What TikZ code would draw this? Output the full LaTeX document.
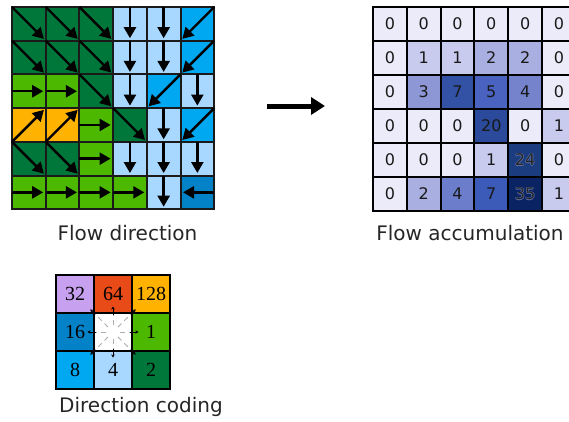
\documentclass[tikz,border=0pt]{standalone}
\usepackage{fontspec}
\setmainfont{DejaVu Sans}
\newfontfamily\serifnum{Liberation Serif}
\usetikzlibrary{arrows.meta,calc}
% direction colours (index 0..7 = E,SE,S,SW,W,NW,N,NE)
\definecolor{c0}{HTML}{4CB800}
\definecolor{c1}{HTML}{00773A}
\definecolor{c2}{HTML}{A8D8FF}
\definecolor{c3}{HTML}{00A8F2}
\definecolor{c4}{HTML}{0382C8}
\definecolor{c5}{HTML}{C8A0F0}
\definecolor{c6}{HTML}{E84A18}
\definecolor{c7}{HTML}{FFB300}
% accumulation colours
\definecolor{a0}{HTML}{EBEBFA}
\definecolor{a1}{HTML}{C8CBEE}
\definecolor{a2}{HTML}{A9AFE0}
\definecolor{a3}{HTML}{8E97D5}
\definecolor{a4}{HTML}{6B7DCB}
\definecolor{a4b}{HTML}{7483CC}
\definecolor{a5}{HTML}{4A63C1}
\definecolor{a7}{HTML}{3352A6}
\definecolor{a7b}{HTML}{3C5BB9}
\definecolor{a20}{HTML}{2C4A9C}
\definecolor{a24}{HTML}{1B3C7E}
\definecolor{a35}{HTML}{0A2463}
\definecolor{gridc}{HTML}{1A1A1A}
\definecolor{labc}{HTML}{262626}
\definecolor{haloc}{HTML}{5A6FA8}
\newcommand\myhalo[1]{%
  \rlap{\kern0.7pt\textcolor{haloc}{#1}}%
  \rlap{\kern-0.7pt\textcolor{haloc}{#1}}%
  \rlap{\raisebox{0.7pt}{\textcolor{haloc}{#1}}}%
  \rlap{\raisebox{-0.7pt}{\textcolor{haloc}{#1}}}%
  \textcolor{black!85}{#1}}
\begin{document}
\begin{tikzpicture}[x=1pt,y=-1pt,
  fdcell/.style={minimum size=33.7pt,inner sep=0pt,outer sep=0pt,draw=none},
  accell/.style={minimum size=34pt,inner sep=0pt,outer sep=0pt,draw=none,
    font=\fontsize{16}{16}\selectfont,text=black!90},
  dccell/.style={minimum size=38pt,inner sep=0pt,outer sep=0pt,draw=none,
    font=\serifnum\fontsize{20}{20}\selectfont,text=black},
  gridline/.style={draw=gridc,line width=2pt},
  fdarrow/.style={draw=black,line width=2.4pt,
    -{Triangle[length=11pt,width=12pt]},shorten >=2.5pt},
  raddash/.style={draw=gray!65,line width=0.9pt,dash pattern=on 5pt off 4pt},
  smallarr/.style={draw=black,line width=0.7pt,-{Stealth[length=3pt,width=3.5pt]}},
  lab/.style={font=\fontsize{20}{24}\selectfont,text=labc,anchor=base,inner sep=0pt}]
\useasboundingbox (0,0) rectangle (569,421);
\clip (0,0) rectangle (569,421);
\fill[white] (0,0) rectangle (569,421);

% ---------------- Flow direction ----------------
\def\fddata{{1,1,1,2,2,3},{1,1,1,2,2,3},{0,0,1,2,3,2},{7,7,0,1,2,3},{1,1,0,2,2,2},{0,0,0,0,2,4}}
\foreach \row [count=\r from 0] in \fddata {
  \foreach \d [count=\c from 0] in \row {
    \node[fdcell,fill=c\d] (fd\r\c) at ({12+(\c+0.5)*33.7},{7+(\r+0.5)*33.7}) {};
  }
}
\foreach \k in {0,...,6} {
  \draw[gridline] ({12+\k*33.7},6) -- ({12+\k*33.7},210.2);
  \draw[gridline] (11,{7+\k*33.7}) -- (215.2,{7+\k*33.7});
}
\foreach \row [count=\r from 0] in \fddata {
  \foreach \d [count=\c from 0] in \row {
    \pgfmathtruncatemacro\ta{mod(360-45*\d,360)}
    \pgfmathtruncatemacro\fa{mod(540-45*\d,360)}
    \draw[fdarrow] (fd\r\c.\fa) -- (fd\r\c.\ta);
  }
}
\node[lab] (fdlab) at (127.5,240) {Flow direction};

% ---------------- Big arrow ----------------
\coordinate (bigS) at (267,106);
\coordinate (bigE) at (325,106);
\draw[line width=5pt,-{Triangle[length=14pt,width=17pt]}] (bigS) -- (bigE);

% ---------------- Flow accumulation ----------------
\foreach \row [count=\r from 0] in {
  {0/a0,0/a0,0/a0,0/a0,0/a0,0/a0},
  {0/a0,1/a1,1/a1,2/a2,2/a2,0/a0},
  {0/a0,3/a3,7/a7,5/a5,4/a4b,0/a0},
  {0/a0,0/a0,0/a0,20/a20,0/a0,1/a1},
  {0/a0,0/a0,0/a0,1/a1,\myhalo{24}/a24,0/a0},
  {0/a0,2/a2,4/a4,7/a7b,\myhalo{35}/a35,1/a1}} {
  \foreach \v/\cl [count=\c from 0] in \row {
    \node[accell,fill=\cl] (ac\r\c) at ({373+(\c+0.5)*33.8},{7+(\r+0.5)*34}) {\v};
  }
}
\foreach \k in {0,...,6} {
  \draw[gridline,draw=black] ({373+\k*33.8},6) -- ({373+\k*33.8},212);
  \draw[gridline,draw=black] (372,{7+\k*34}) -- (580,{7+\k*34});
}
\node[lab] (aclab) at (470,240) {Flow accumulation};

% ---------------- Direction coding ----------------
\foreach \i/\lab/\dx/\dy in {0/1/1/0,1/2/1/1,2/4/0/1,3/8/-1/1,4/16/-1/0,5/32/-1/-1,6/64/0/-1,7/128/1/-1} {
  \node[dccell,fill=c\i] (dc\i) at ({113+\dx*38},{332+\dy*38}) {\lab};
}
\node[dccell,fill=white] (dcc) at (113,332) {};
\foreach \k in {0,...,3} {
  \draw[gridline,draw=black] ({56+\k*38},274) -- ({56+\k*38},390);
  \draw[gridline,draw=black] (55,{275+\k*38}) -- (171,{275+\k*38});
}
\foreach \i/\re/\sa/\sb in {0/18/17/25.5,1/25/25/32,2/18/17/25.5,3/25/25/32,4/18/17/25.5,5/25/25/32,6/18/17/25.5,7/25/25/32} {
  \draw[raddash] ($(dcc)!7pt!(dc\i)$) -- ($(dcc)!\re pt!(dc\i)$);
  \draw[smallarr] ($(dcc)!\sa pt!(dc\i)$) -- ($(dcc)!\sb pt!(dc\i)$);
}
\node[lab] (dclab) at (141,412) {Direction coding};
\end{tikzpicture}
\end{document}
